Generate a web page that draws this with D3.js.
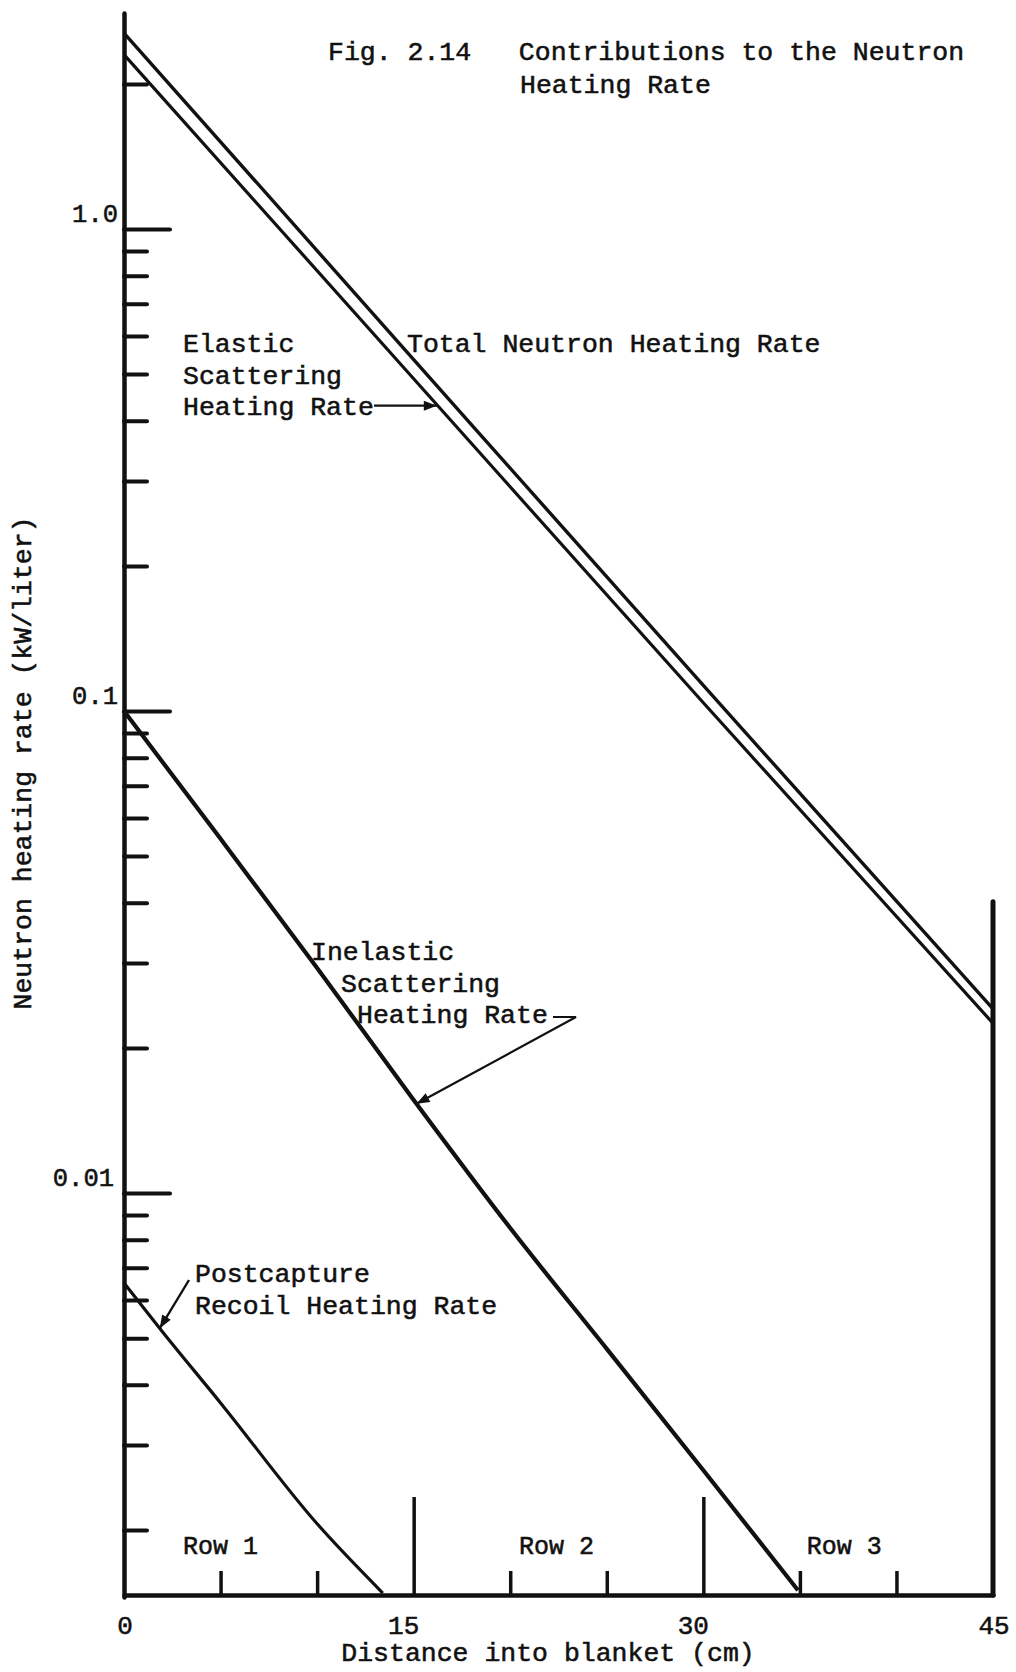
<!DOCTYPE html>
<html>
<head>
<meta charset="utf-8">
<script src="https://cdn.jsdelivr.net/npm/d3@7"></script>
<style>
  html, body { margin: 0; padding: 0; background: #fff; }
  svg { display: block; }
  text { font-family: "Liberation Mono", "Courier New", monospace; fill: #111; stroke: #111; stroke-width: 0.55; }
</style>
</head>
<body>
<svg id="chart" width="1016" height="1672"></svg>
<script>
// Distance into blanket (cm) and heating rate (kW/liter) for each contribution
const totalX        = [0, 15, 30, 45];
const totalRate     = [2.55, 0.536, 0.113, 0.0241];
const elasticX      = [0, 15, 30, 45];
const elasticRate   = [2.30, 0.489, 0.104, 0.0225];
const inelasticX    = [0, 5, 10, 15, 20, 25, 30, 34.9];
const inelasticRate = [0.100, 0.0543, 0.0293, 0.0156, 0.00846, 0.00475, 0.00266, 0.00150];
const recoilX       = [0, 2, 5, 10, 13.4];
const recoilRate    = [0.00651, 0.00515, 0.00367, 0.00206, 0.00148];

// Axis ticks
const yMajorTicks  = [1, 0.1, 0.01];
const yMajorLabels = ["1.0", "0.1", "0.01"];
const yMinorTicks  = [2, 0.9, 0.8, 0.7, 0.6, 0.5, 0.4, 0.3, 0.2,
                      0.09, 0.08, 0.07, 0.06, 0.05, 0.04, 0.03, 0.02,
                      0.009, 0.008, 0.007, 0.006, 0.005, 0.004, 0.003, 0.002];
const xLabelTicks  = [0, 15, 30, 45];
const xMinorTicks  = [5, 10, 20, 25, 35, 40];
const xMajorTicks  = [15, 30];
const rowLabels    = ["Row 1", "Row 2", "Row 3"];
const rowCentres   = [5, 22.4, 37.3];

const svg = d3.select("#chart");
const INK = "#111";

const x = d3.scaleLinear().domain([0, 45]).range([124, 993]);
const y = d3.scaleLog().domain([0.001452, 2.806]).range([1597, 13]);

const zip = (xs, vs) => xs.map((d, i) => ({ x: d, v: vs[i] }));
const series = {
  total:     zip(totalX, totalRate),
  elastic:   zip(elasticX, elasticRate),
  inelastic: zip(inelasticX, inelasticRate),
  recoil:    zip(recoilX, recoilRate)
};

// value of a series at distance d, interpolated in log space
function at(s, d) {
  for (let i = 1; i < s.length; i++) {
    if (d <= s[i].x) {
      const t = (d - s[i - 1].x) / (s[i].x - s[i - 1].x);
      return Math.exp(Math.log(s[i - 1].v) * (1 - t) + Math.log(s[i].v) * t);
    }
  }
  return s[s.length - 1].v;
}

// ---- axes ----
const yAxisG = svg.append("g").attr("transform", `translate(${x(0)},0)`)
  .call(d3.axisRight(y).tickValues(yMinorTicks.concat(yMajorTicks))
          .tickSize(23).tickSizeOuter(0).tickFormat(""));
yAxisG.select(".domain").attr("stroke", INK).attr("stroke-width", 4.5).attr("stroke-linecap", "round");
yAxisG.selectAll(".tick line").attr("stroke", INK).attr("stroke-width", 4).attr("stroke-linecap", "round")
  .attr("x2", d => yMajorTicks.includes(d) ? 46 : 23);

const xAxisG = svg.append("g").attr("transform", `translate(0,1595)`)
  .call(d3.axisTop(x).tickValues(xMinorTicks.concat(xMajorTicks))
          .tickSize(24).tickSizeOuter(0).tickFormat(""));
xAxisG.select(".domain").attr("stroke", INK).attr("stroke-width", 4.5).attr("stroke-linecap", "round");
xAxisG.selectAll(".tick line").attr("stroke", INK).attr("stroke-width", 3.5)
  .attr("y2", d => xMajorTicks.includes(d) ? -98 : -24);

// blanket outer boundary at 45 cm
svg.append("line")
  .attr("x1", x(45)).attr("x2", x(45))
  .attr("y1", 1595).attr("y2", y(0.0402))
  .attr("stroke", INK).attr("stroke-width", 5).attr("stroke-linecap", "round");

// y tick labels
svg.append("g").selectAll("text").data(yMajorTicks).join("text")
  .attr("x", (d, i) => i === 2 ? 114 : 118)
  .attr("y", d => y(d) - 7)
  .attr("text-anchor", "end")
  .attr("font-size", 25.5)
  .text((d, i) => yMajorLabels[i]);

// x tick labels
svg.append("g").selectAll("text").data(xLabelTicks).join("text")
  .attr("x", d => x(d) + (d === 0 || d === 45 ? 1 : -10))
  .attr("y", 1634)
  .attr("text-anchor", "middle")
  .attr("font-size", 26)
  .text(d => d);

// axis titles
svg.append("text")
  .attr("x", 548).attr("y", 1661)
  .attr("text-anchor", "middle").attr("font-size", 26.5)
  .text("Distance into blanket (cm)");

svg.append("text")
  .attr("transform", "translate(31,763) rotate(-90)")
  .attr("text-anchor", "middle").attr("font-size", 26.5)
  .text("Neutron heating rate (kW/liter)");

// figure title
const title = svg.append("text").attr("font-size", 26.5).attr("xml:space", "preserve");
title.append("tspan").attr("x", 328).attr("y", 60).text("Fig. 2.14   Contributions to the Neutron");
title.append("tspan").attr("x", 520).attr("y", 93).text("Heating Rate");

// row labels
svg.append("g").selectAll("text").data(rowLabels).join("text")
  .attr("x", (d, i) => x(rowCentres[i]))
  .attr("y", 1554)
  .attr("text-anchor", "middle")
  .attr("font-size", 25)
  .attr("stroke-width", 0.3)
  .text(d => d);

// ---- curves ----
const line = d3.line().x(d => x(d.x)).y(d => y(d.v)).curve(d3.curveMonotoneX);
const curveStyle = { total: 3.4, elastic: 3.2, inelastic: 4.2, recoil: 3.2 };
Object.keys(series).forEach(k => {
  svg.append("path").datum(series[k])
    .attr("d", line)
    .attr("fill", "none")
    .attr("stroke", INK)
    .attr("stroke-width", curveStyle[k]);
});

// ---- annotations ----
function labelBlock(lines, x0s, y0, dy) {
  const t = svg.append("text").attr("font-size", 26.5).attr("xml:space", "preserve");
  lines.forEach((s, i) => t.append("tspan").attr("x", x0s[i]).attr("y", y0 + i * dy).text(s));
}
function arrowHead(tip, from, len, half) {
  const a = Math.atan2(tip[1] - from[1], tip[0] - from[0]);
  const b = [tip[0] - len * Math.cos(a), tip[1] - len * Math.sin(a)];
  const p1 = [b[0] + half * Math.sin(a), b[1] - half * Math.cos(a)];
  const p2 = [b[0] - half * Math.sin(a), b[1] + half * Math.cos(a)];
  svg.append("path").attr("d", `M${tip}L${p1}L${p2}Z`).attr("fill", INK);
}
function arrow(points, w) {
  svg.append("path").attr("d", d3.line()(points))
    .attr("fill", "none").attr("stroke", INK).attr("stroke-width", w);
  arrowHead(points[points.length - 1], points[points.length - 2], 13, 5);
}

labelBlock(["Elastic", "Scattering", "Heating Rate"], [183, 183, 183], 352, 31.5);
labelBlock(["Total Neutron Heating Rate"], [407], 352, 0);
labelBlock(["Inelastic", "Scattering", "Heating Rate"], [311, 341, 357], 960, 31.5);
labelBlock(["Postcapture", "Recoil Heating Rate"], [195, 195], 1282, 32);

const elTip = [x(16.2), y(at(series.elastic, 16.2)) + 1];
arrow([[374, elTip[1]], elTip], 2.2);

const inTip = [x(15.15), y(at(series.inelastic, 15.15))];
arrow([[553, 1017], [576, 1017], inTip], 2.2);

const reTip = [x(1.85), y(at(series.recoil, 1.85))];
arrow([[189, 1280], reTip], 2.4);
</script>
</body>
</html>
